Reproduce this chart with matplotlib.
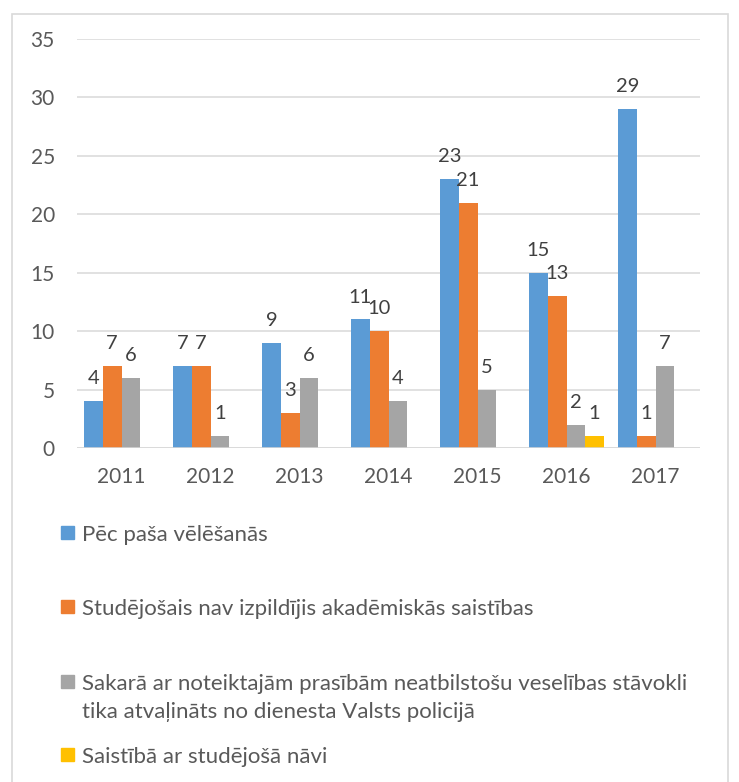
import matplotlib.pyplot as plt
from matplotlib.patches import Rectangle
import numpy as np

plt.rcParams['font.family'] = ['Lato', 'DejaVu Sans']

# dati
years = ['2011', '2012', '2013', '2014', '2015', '2016', '2017']
pec_pasa = [4, 7, 9, 11, 23, 15, 29]
nav_izpildijis = [7, 7, 3, 10, 21, 13, 1]
veseliba = [6, 1, 6, 4, 5, 2, 7]
navi = [0, 0, 0, 0, 0, 1, 0]

series_names = [
    'Pēc paša vēlēšanās',
    'Studējošais nav izpildījis akadēmiskās saistības',
    'Sakarā ar noteiktajām prasībām neatbilstošu veselības stāvokli\ntika atvaļināts no dienesta Valsts policijā',
    'Saistībā ar studējošā nāvi',
]
colors = ['#5B9BD5', '#ED7D31', '#A5A5A5', '#FFC000']
text_col = '#595959'
grid_col = '#D9D9D9'

W, H = 739, 782
fig = plt.figure(figsize=(W / 100, H / 100), dpi=100)

# rāmis ap visu diagrammu
fig.patches.append(Rectangle((12 / W, -0.01), 716 / W, 1.01 - 14 / H,
                             transform=fig.transFigure, fill=False,
                             edgecolor=grid_col, linewidth=1.2))

ax = fig.add_axes([77 / W, 1 - 448 / H, 623 / W, 409 / H])

x = np.arange(len(years))
w = 0.21
all_series = [pec_pasa, nav_izpildijis, veseliba, navi]
for j, (vals, col) in enumerate(zip(all_series, colors)):
    bars = ax.bar(x + (j - 1.5) * w, vals, width=w, color=col, zorder=3)
    labels = [str(v) if v else '' for v in vals]
    ax.bar_label(bars, labels=labels, padding=10, fontsize=14.5, color='#404040')

ax.set_ylim(0, 35)
ax.set_xlim(-0.5, len(years) - 0.5)
ax.set_yticks(range(0, 36, 5))
ax.set_xticks(x)
ax.set_xticklabels(years)
ax.grid(axis='y', color=grid_col, linewidth=1.1, zorder=0)
for s in ax.spines.values():
    s.set_visible(False)
ax.axhline(0, color=grid_col, linewidth=1.1, zorder=4)
ax.tick_params(axis='both', length=0, labelsize=15, labelcolor=text_col)
ax.tick_params(axis='y', pad=16)
ax.tick_params(axis='x', pad=14)

# leģenda
legend_y = [533, 607, 682, 755]
line_gap = 28
for name, col, ly in zip(series_names, colors, legend_y):
    fig.patches.append(Rectangle((61 / W, 1 - (ly + 6) / H), 13 / W, 13 / H,
                                 transform=fig.transFigure, color=col))
    extra = name.count('\n') * line_gap
    fig.text(82 / W, 1 - (ly + 8 + extra) / H, name, fontsize=16, color=text_col,
             va='baseline', ha='left', linespacing=1.5)

fig.savefig('out.png', dpi=100)
